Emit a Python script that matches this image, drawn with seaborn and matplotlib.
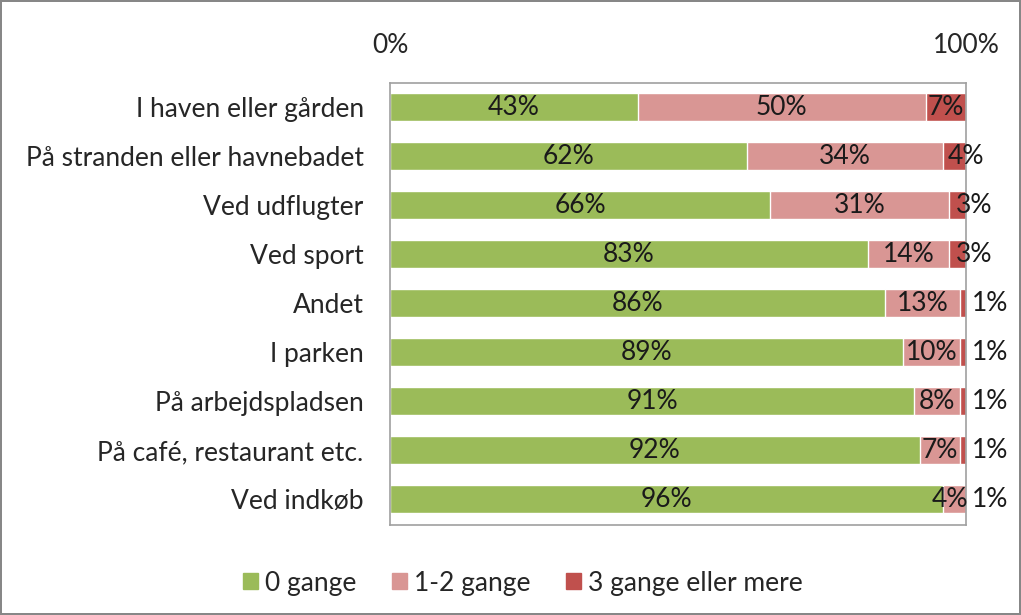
import numpy as np
import pandas as pd
import matplotlib.pyplot as plt
import seaborn as sns
from matplotlib.patches import Patch

categories = ["I haven eller gården", "På stranden eller havnebadet", "Ved udflugter",
              "Ved sport", "Andet", "I parken", "På arbejdspladsen",
              "På café, restaurant etc.", "Ved indkøb"]
zero_times = [43, 62, 66, 83, 86, 89, 91, 92, 96]
one_two_times = [50, 34, 31, 14, 13, 10, 8, 7, 4]
three_plus = [7, 4, 3, 3, 1, 1, 1, 1, 1]
series_names = ["0 gange", "1-2 gange", "3 gange eller mere"]
colors = ["#9BBB59", "#D99694", "#C0504D"]

sns.set_theme(style="white")
plt.rcParams['font.family'] = ['Lato', 'DejaVu Sans']

df = pd.DataFrame({"cat": categories, "a": zero_times, "b": one_two_times, "c": three_plus})
df["ab"] = df["a"] + df["b"]
df["abc"] = df["ab"] + df["c"]

fig = plt.figure(figsize=(10.21, 6.15), dpi=100)
fig.patch.set_edgecolor("#878787")
fig.patch.set_linewidth(1.5)
ax = fig.add_axes([0.382, 0.146, 0.564, 0.719])

# stacked bars: draw totals first, then cover with partial sums
sns.barplot(data=df, x="abc", y="cat", color=colors[2], width=0.57, ax=ax, saturation=1)
sns.barplot(data=df, x="ab", y="cat", color=colors[1], width=0.57, ax=ax, saturation=1)
sns.barplot(data=df, x="a", y="cat", color=colors[0], width=0.57, ax=ax, saturation=1)

fs = 19
for i, row in df.iterrows():
    ax.text(row["a"] / 2, i, f"{row['a']}%", ha="center", va="center", fontsize=fs, color="#1a1a1a")
    # small pink segments: label nudged left like Excel does
    xb = row["a"] + row["b"] / 2 if row["b"] > 5 else row["a"] + row["b"] / 2 - 0.8
    ax.text(xb, i, f"{row['b']}%", ha="center", va="center", fontsize=fs, color="#1a1a1a")
    v = row["c"]
    xc = row["ab"] + v / 2 if v > 4 else 100 + (4 - v) * 1.4
    ax.text(xc, i, f"{v}%", ha="center", va="center", fontsize=fs, color="#1a1a1a")

ax.set_xlim(0, 100)
ax.set_ylim(8.53, -0.49)
ax.set_xticks([0, 100])
ax.set_xticklabels(["0%", "100%"], fontsize=fs)
ax.xaxis.tick_top()
ax.tick_params(axis="x", length=0, pad=18)
ax.tick_params(axis="y", length=0, labelsize=fs, pad=19)
ax.set_xlabel("")
ax.set_ylabel("")
for s in ax.spines.values():
    s.set_color("#A0A0A0")
    s.set_linewidth(1.2)

handles = [Patch(color=c, label=n) for c, n in zip(colors, series_names)]
fig.legend(handles=handles, loc="center", bbox_to_anchor=(0.512, 0.052), ncol=3, frameon=False,
           fontsize=fs, handlelength=0.57, handleheight=0.57, handletextpad=0.25, columnspacing=1.36)

fig.savefig("out.png", dpi=100, edgecolor=fig.get_edgecolor())
